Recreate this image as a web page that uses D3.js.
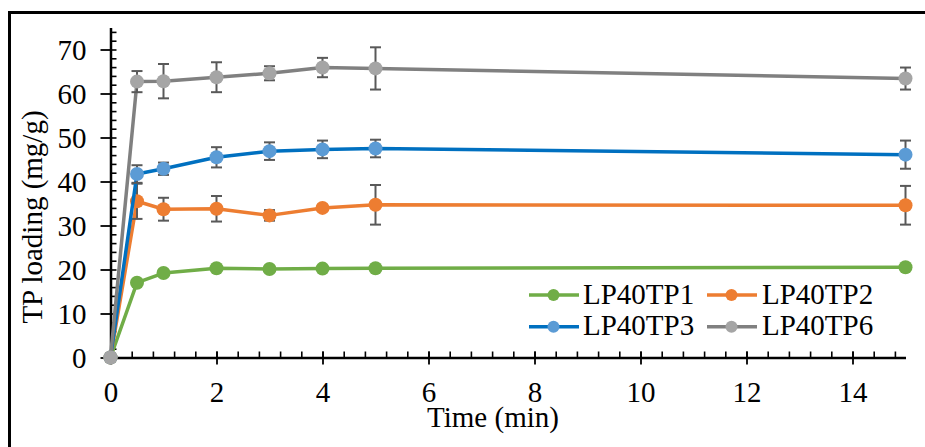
<!DOCTYPE html>
<html><head><meta charset="utf-8">
<script src="https://cdn.jsdelivr.net/npm/d3@7"></script>
<style>
html,body{margin:0;padding:0;background:#fff;}
svg, svg text{font-family:"Liberation Serif","Times New Roman",serif !important;}
</style></head>
<body>
<svg id="chart" width="925" height="447"></svg>
<script>
// ---- data ----
const times = [0, 0.5, 1, 2, 3, 4, 5, 15];
const seriesNames = ["LP40TP1", "LP40TP2", "LP40TP3", "LP40TP6"];
const tp1 = [0, 17.0, 19.2, 20.3, 20.1, 20.2, 20.3, 20.5];
const tp1Err = [0, 0.3, 0.3, 0.3, 0.3, 0.3, 0.3, 0.3];
const tp2 = [0, 35.5, 33.7, 33.8, 32.3, 34.0, 34.7, 34.6];
const tp2Err = [0, 4.0, 2.6, 2.9, 1.2, 0.7, 4.5, 4.4];
const tp3 = [0, 41.7, 42.9, 45.5, 46.9, 47.3, 47.5, 46.1];
const tp3Err = [0, 2.0, 1.4, 2.3, 2.0, 2.0, 2.0, 3.2];
const tp6 = [0, 62.7, 62.8, 63.7, 64.6, 65.9, 65.7, 63.4];
const tp6Err = [0, 2.4, 3.9, 3.4, 1.6, 2.2, 4.8, 2.5];
const xMajorTicks = [0, 2, 4, 6, 8, 10, 12, 14];
const yMajorTicks = [0, 10, 20, 30, 40, 50, 60, 70];
const xTitle = "Time (min)";
const yTitle = "TP loading (mg/g)";

const lineColors = ["#70AD47", "#ED7D31", "#0070C0", "#808080"];
const markerColors = ["#70AD47", "#ED7D31", "#5B9BD5", "#A5A5A5"];
const values = [tp1, tp2, tp3, tp6];
const errors = [tp1Err, tp2Err, tp3Err, tp6Err];

const svg = d3.select("#chart");
const FS = 29;
const FONT = '"Liberation Serif","Times New Roman",serif';

// outer border
svg.append("rect").attr("x", 9.5).attr("y", 12.5).attr("width", 960).attr("height", 480)
  .attr("fill", "#fff").attr("stroke", "#000").attr("stroke-width", 3);

const x = d3.scaleLinear().domain([0, 15]).range([110.5, 905.5]);
const y = d3.scaleLinear().domain([0, 75]).range([357.5, 27.5]);

// x axis minor (inside) ticks
svg.append("g").attr("transform", `translate(0,${y(0)})`)
  .call(d3.axisBottom(x).tickValues(d3.range(0, 15.01, 0.4).map(v => +v.toFixed(1))).tickSizeInner(-6).tickSizeOuter(0).tickFormat(""))
  .call(g => g.selectAll("line").attr("stroke", "#000").attr("stroke-width", 1.6))
  .call(g => g.select(".domain").attr("stroke", "#000").attr("stroke-width", 2.5));
// x axis major ticks with labels
svg.append("g").attr("transform", `translate(0,${y(0)})`)
  .call(d3.axisBottom(x).tickValues(xMajorTicks).tickSizeInner(7).tickSizeOuter(0).tickFormat(d3.format("d")))
  .call(g => g.select(".domain").remove())
  .call(g => g.selectAll("line").attr("stroke", "#000").attr("stroke-width", 1.8).attr("y1", -6))
  .call(g => g.selectAll("text").style("font-family", FONT).style("font-size", FS + "px").attr("fill", "#000").attr("y", 44.5).attr("dy", 0));

// y axis minor (inside, right) ticks
svg.append("g").attr("transform", `translate(${x(0)},0)`)
  .call(d3.axisLeft(y).tickValues(d3.range(0, 75.01, 2)).tickSizeInner(-6).tickSizeOuter(0).tickFormat(""))
  .call(g => g.selectAll("line").attr("stroke", "#000").attr("stroke-width", 1.6))
  .call(g => g.select(".domain").attr("stroke", "#000").attr("stroke-width", 2.5));
// y axis major ticks with labels
svg.append("g").attr("transform", `translate(${x(0)},0)`)
  .call(d3.axisLeft(y).tickValues(yMajorTicks).tickSizeInner(10).tickSizeOuter(0).tickPadding(14))
  .call(g => g.select(".domain").remove())
  .call(g => g.selectAll("line").attr("stroke", "#000").attr("stroke-width", 1.8))
  .call(g => g.selectAll("text").style("font-family", FONT).style("font-size", FS + "px").attr("fill", "#000").attr("dy", "0.36em"));

// axis titles
svg.append("text").attr("x", 493).attr("y", 427).attr("text-anchor", "middle")
  .style("font-family", FONT).style("font-size", FS + "px").attr("fill", "#000").text(xTitle);
svg.append("text").attr("transform", `translate(42,217) rotate(-90)`).attr("text-anchor", "middle")
  .style("font-family", FONT).style("font-size", FS + "px").attr("fill", "#000").text(yTitle);

// series
const line = d3.line().x((d, i) => x(times[i])).y(d => y(d));
values.forEach((vals, s) => {
  const g = svg.append("g");
  g.append("path").attr("d", line(vals)).attr("fill", "none")
    .attr("stroke", lineColors[s]).attr("stroke-width", 3.5).attr("stroke-linejoin", "round");
  const eb = g.append("g");
  vals.forEach((v, i) => {
    const e = errors[s][i];
    if (!e) return;
    const cx = x(times[i]);
    eb.append("line").attr("x1", cx).attr("x2", cx).attr("y1", y(v - e)).attr("y2", y(v + e));
    eb.append("line").attr("x1", cx - 5.5).attr("x2", cx + 5.5).attr("y1", y(v - e)).attr("y2", y(v - e));
    eb.append("line").attr("x1", cx - 5.5).attr("x2", cx + 5.5).attr("y1", y(v + e)).attr("y2", y(v + e));
  });
  eb.selectAll("line").attr("stroke", "#595959").attr("stroke-width", 2);
  g.selectAll("circle").data(vals).join("circle")
    .attr("cx", (d, i) => x(times[i])).attr("cy", d => y(d)).attr("r", 7)
    .attr("fill", markerColors[s]);
});

// legend
const legendPos = [[529, 295, 583], [707, 295, 762], [529, 326.7, 583], [707, 326.7, 762]];
seriesNames.forEach((name, s) => {
  const [lx, ly, tx] = legendPos[s];
  const g = svg.append("g");
  g.append("line").attr("x1", lx).attr("x2", lx + 50).attr("y1", ly).attr("y2", ly)
    .attr("stroke", lineColors[s]).attr("stroke-width", 3.5);
  g.append("circle").attr("cx", lx + 24.5).attr("cy", ly).attr("r", 6).attr("fill", markerColors[s]);
  g.append("text").attr("x", tx).attr("y", ly + 8.5)
    .style("font-family", FONT).style("font-size", FS + "px").attr("fill", "#000").text(name);
});
</script>
</body></html>
